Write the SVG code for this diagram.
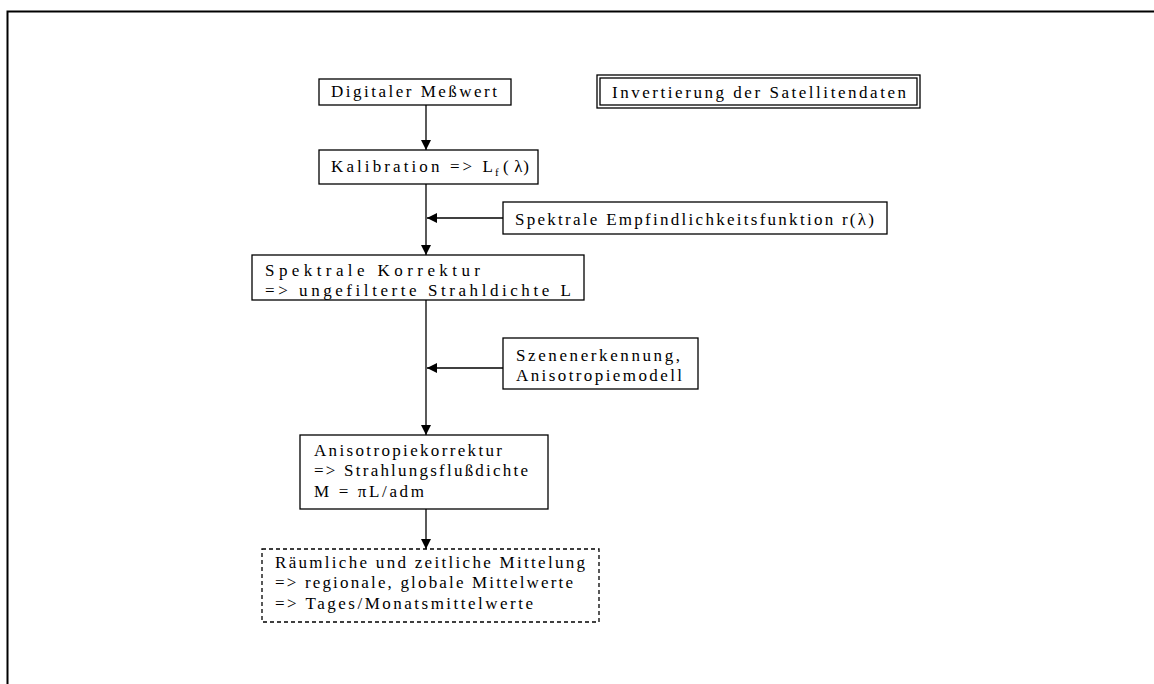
<svg xmlns="http://www.w3.org/2000/svg" width="1154" height="684" viewBox="0 0 1154 684">
<style>
.box{fill:#fff;stroke:#000;stroke-width:1.3}
.dash{fill:#fff;stroke:#000;stroke-width:1.3;stroke-dasharray:4 3}
.t{font-family:"Liberation Serif","Times New Roman",serif;font-size:17px;fill:#000}
.c{stroke:#000;stroke-width:1.3;fill:none}
</style>
<defs>
<marker id="ah" viewBox="0 0 10 10" refX="10" refY="5" markerWidth="10" markerHeight="10" markerUnits="userSpaceOnUse" orient="auto">
<path d="M0,0 L10,5 L0,10 Z" fill="#000"/>
</marker>
</defs>
<rect width="1154" height="684" fill="#fff"/>
<path d="M7.5,684 L7.5,11.5 L1154,11.5" fill="none" stroke="#000" stroke-width="2"/>

<g id="connectors">
<line class="c" x1="426" y1="105" x2="426" y2="150" marker-end="url(#ah)"/>
<line class="c" x1="426" y1="184" x2="426" y2="255" marker-end="url(#ah)"/>
<line class="c" x1="503" y1="218" x2="427" y2="218" marker-end="url(#ah)"/>
<line class="c" x1="426" y1="300" x2="426" y2="435" marker-end="url(#ah)"/>
<line class="c" x1="503" y1="368" x2="427" y2="368" marker-end="url(#ah)"/>
<line class="c" x1="426" y1="509" x2="426" y2="549" marker-end="url(#ah)"/>
</g>

<g id="title">
<rect class="box" x="597" y="75" width="323" height="33"/>
<rect class="box" x="600" y="78" width="317" height="27"/>
<text class="t" x="612" y="98" textLength="294" lengthAdjust="spacing">Invertierung der Satellitendaten</text>
</g>

<g id="n1">
<rect class="box" x="319" y="79" width="192" height="26"/>
<text class="t" x="331" y="97" textLength="166" lengthAdjust="spacing">Digitaler Meßwert</text>
</g>

<g id="n2">
<rect class="box" x="319" y="150" width="219" height="34"/>
<text class="t" x="331" y="172"><tspan textLength="162" lengthAdjust="spacing">Kalibration =&gt; L</tspan><tspan x="495" y="176" font-size="11">f</tspan><tspan x="503" y="172" textLength="26" lengthAdjust="spacing">( λ)</tspan></text>
</g>

<g id="n3">
<rect class="box" x="503" y="202" width="384" height="32"/>
<text class="t" x="515" y="225" textLength="359" lengthAdjust="spacing">Spektrale Empfindlichkeitsfunktion r(λ)</text>
</g>

<g id="n4">
<rect class="box" x="252" y="255" width="332" height="45"/>
<text class="t" x="265" y="276" textLength="215" lengthAdjust="spacing">Spektrale Korrektur</text>
<text class="t" x="265" y="296" textLength="306" lengthAdjust="spacing">=&gt; ungefilterte Strahldichte L</text>
</g>

<g id="n5">
<rect class="box" x="503" y="338" width="195" height="51"/>
<text class="t" x="516" y="361" textLength="164" lengthAdjust="spacing">Szenenerkennung,</text>
<text class="t" x="516" y="381" textLength="166" lengthAdjust="spacing">Anisotropiemodell</text>
</g>

<g id="n6">
<rect class="box" x="300" y="435" width="248" height="74"/>
<text class="t" x="314" y="456" textLength="188" lengthAdjust="spacing">Anisotropiekorrektur</text>
<text class="t" x="314" y="476" textLength="214" lengthAdjust="spacing">=&gt; Strahlungsflußdichte</text>
<text class="t" x="314" y="497" textLength="110" lengthAdjust="spacing">M = πL/adm</text>
</g>

<g id="n7">
<rect class="dash" x="262" y="549" width="337" height="73"/>
<text class="t" x="275" y="568" textLength="310" lengthAdjust="spacing">Räumliche und zeitliche Mittelung</text>
<text class="t" x="275" y="588" textLength="298" lengthAdjust="spacing">=&gt; regionale, globale Mittelwerte</text>
<text class="t" x="275" y="609" textLength="258" lengthAdjust="spacing">=&gt; Tages/Monatsmittelwerte</text>
</g>
</svg>
